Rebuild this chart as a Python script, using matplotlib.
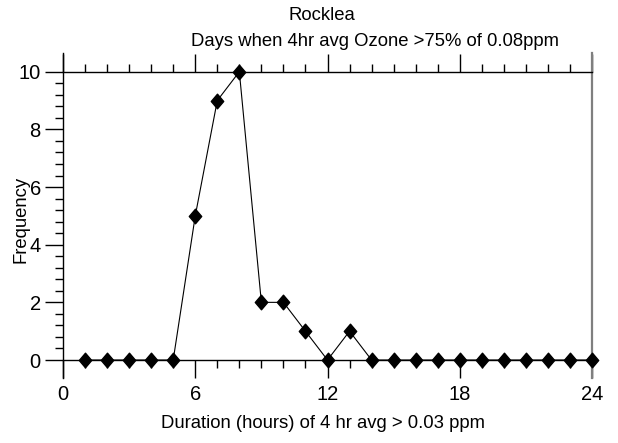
import numpy as np
import matplotlib
matplotlib.use("Agg")
import matplotlib.pyplot as plt
from matplotlib.ticker import MultipleLocator, FixedLocator
from matplotlib.path import Path

# Frequency of days per duration (hours)
hours = [1, 2, 3, 4, 5, 6, 7, 8, 9, 10, 11, 12,
         13, 14, 15, 16, 17, 18, 19, 20, 21, 22, 23, 24]
frequency = [0, 0, 0, 0, 0, 5, 9, 10, 2, 2, 1, 0,
             1, 0, 0, 0, 0, 0, 0, 0, 0, 0, 0, 0]

title_1 = "Rocklea"
title_2 = "Days when 4hr avg Ozone >75% of 0.08ppm"
x_label = "Duration (hours) of 4 hr avg > 0.03 ppm"
y_label = "Frequency"

plt.rcParams['font.family'] = ['Liberation Sans', 'DejaVu Sans']

W, H = 618, 443
fig = plt.figure(figsize=(W / 100, H / 100), dpi=100)
ax = fig.add_axes([63 / W, 1 - 378 / H, (592 - 63) / W, (378 - 52.7) / H])

# slightly tall diamond
diamond = Path([(0, 1), (0.85, 0), (0, -1), (-0.85, 0), (0, 1)],
               [Path.MOVETO, Path.LINETO, Path.LINETO, Path.LINETO, Path.CLOSEPOLY])
ax.plot(hours, frequency, color='black', lw=0.8, marker=diamond,
        markersize=10.5, markerfacecolor='black', markeredgecolor='black',
        clip_on=False, zorder=3)

ax.set_xlim(0, 24)
ax.set_ylim(-0.624, 10.66)

ax.spines['bottom'].set_position(('data', 0))
ax.spines['top'].set_position(('data', 10))
for s in ['left', 'bottom', 'top']:
    ax.spines[s].set_linewidth(1.0)
    ax.spines[s].set_color('black')
ax.spines['right'].set_color('#7f7f7f')
ax.spines['right'].set_linewidth(1.6)

ax.xaxis.set_ticks_position('both')
ax.xaxis.set_major_locator(MultipleLocator(6))
ax.xaxis.set_minor_locator(MultipleLocator(1))
ax.yaxis.set_ticks_position('left')
ax.yaxis.set_major_locator(FixedLocator([0, 2, 4, 6, 8, 10]))
ax.yaxis.set_minor_locator(FixedLocator(np.arange(0, 10.01, 0.4)))

ax.tick_params(axis='both', which='major', direction='out', length=13,
               width=1.0, labelsize=14.5, color='black')
ax.tick_params(axis='both', which='minor', direction='out', length=5.8,
               width=1.0, color='black')
ax.tick_params(axis='x', which='major', pad=5, labeltop=False)
ax.tick_params(axis='y', which='major', pad=3)

fs = 13.3
fig.text(322 / W, 1 - 15 / H, title_1, ha='center', va='center', fontsize=fs)
fig.text(191 / W, 1 - 42 / H, title_2, ha='left', va='center', fontsize=fs)
fig.text(323 / W, 1 - 423 / H, x_label, ha='center', va='center', fontsize=fs)
fig.text(21 / W, 1 - 219 / H, y_label, ha='center', va='center',
         fontsize=fs, rotation=90)

fig.savefig("out.png", dpi=100)
